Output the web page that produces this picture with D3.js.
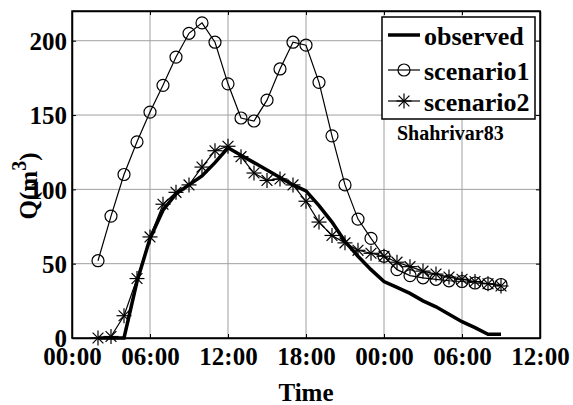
<!DOCTYPE html>
<html><head><meta charset="utf-8">
<script src="https://cdn.jsdelivr.net/npm/d3@7"></script>
<style>
html,body{margin:0;padding:0;background:#fff;}
</style></head>
<body><svg id="c" width="573" height="405"></svg>
<script>
const hours = [2,3,4,5,6,7,8,9,10,11,12,13,14,15,16,17,18,19,20,21,22,23,24,25,26,27,28,29,30,31,32,33];
const observed = [0,0,0,38,67,86,97,103,109,118,128,123,118,113,108,103,99,89,78,65,55,46,38,34,30,25,21,16,11,7,2.5,2.5];
const scenario1 = [52,82,110,132,152,170,189,205,212,199,171,148,146,160,181,199,197,172,136,103,80,67,55,46,42,40.5,39.5,38.5,38,37,36.5,36];
const scenario2 = [0,1,15,40,68,90,98,103,115,126,129,122,111,106,107,103,92,78,69,64,59,57,55,51,48,45,43,41,39.5,38,36.5,35];
const xTickValues = [0,6,12,18,24,30,36];
const xTickLabels = ["00:00","06:00","12:00","18:00","00:00","06:00","12:00"];
const yTickValues = [0,50,100,150,200];
const legendLabels = ["observed","scenario1","scenario2"];

const FONT = "Liberation Serif";
const svg = d3.select("#c");
const L=72, R=540, T=11, B=338;
const x = d3.scaleLinear().domain([0,36]).range([L,R]);
const y = d3.scaleLinear().domain([0,220]).range([B,T]);

// grid
const g = svg.append("g");
g.selectAll(".gx").data(xTickValues.slice(1,-1)).enter().append("line")
 .attr("x1",d=>x(d)).attr("x2",d=>x(d)).attr("y1",T).attr("y2",B)
 .attr("stroke","#a0a0a0").attr("stroke-width",1);
g.selectAll(".gy").data(yTickValues.slice(1)).enter().append("line")
 .attr("x1",L).attr("x2",R).attr("y1",d=>y(d)).attr("y2",d=>y(d))
 .attr("stroke","#a0a0a0").attr("stroke-width",1);

// axes
const xAxis = d3.axisBottom(x).tickValues(xTickValues).tickFormat((d,i)=>xTickLabels[i]).tickSizeInner(-4).tickSizeOuter(0).tickPadding(9);
const yAxis = d3.axisLeft(y).tickValues(yTickValues).tickSizeInner(-4).tickSizeOuter(0).tickPadding(5);
const gx = svg.append("g").attr("transform",`translate(0,${B})`).call(xAxis);
const gy = svg.append("g").attr("transform",`translate(${L},0)`).call(yAxis);
svg.append("g").attr("transform",`translate(0,${T})`).call(d3.axisTop(x).tickValues(xTickValues).tickFormat("").tickSizeInner(-4).tickSizeOuter(0));
svg.append("g").attr("transform",`translate(${R},0)`).call(d3.axisRight(y).tickValues(yTickValues).tickFormat("").tickSizeInner(-4).tickSizeOuter(0));
svg.selectAll(".domain").attr("stroke","#000").attr("stroke-width",1.5);
svg.selectAll(".tick line").attr("stroke","#000");
gx.selectAll("text").attr("font-size",25).attr("fill","#000");
gy.selectAll("text").attr("font-size",25).attr("fill","#000").attr("dy","0.35em");
svg.append("rect").attr("x",L).attr("y",T).attr("width",R-L).attr("height",B-T).attr("fill","none").attr("stroke","#000").attr("stroke-width",1.5);

// lines
const line = (vals)=>d3.line().x((d,i)=>x(hours[i])).y(d=>y(d))(vals);
svg.append("path").attr("d",line(scenario1)).attr("fill","none").attr("stroke","#000").attr("stroke-width",1.2);
svg.append("path").attr("d",line(scenario2)).attr("fill","none").attr("stroke","#000").attr("stroke-width",1.2);
svg.append("path").attr("d",line(observed)).attr("fill","none").attr("stroke","#000").attr("stroke-width",3.5);

function star(sel, cx, cy, r){
  const a = r*0.72;
  const segs = [[-r,0,r,0],[0,-r,0,r],[-a,-a,a,a],[-a,a,a,-a]];
  segs.forEach(s=>sel.append("line").attr("x1",cx+s[0]).attr("y1",cy+s[1]).attr("x2",cx+s[2]).attr("y2",cy+s[3]).attr("stroke","#000").attr("stroke-width",1.2));
}
svg.selectAll(".c1").data(scenario1).enter().append("circle")
 .attr("cx",(d,i)=>x(hours[i])).attr("cy",d=>y(d)).attr("r",6)
 .attr("fill","none").attr("stroke","#000").attr("stroke-width",1.2);
const sg = svg.append("g");
scenario2.forEach((d,i)=>star(sg, x(hours[i]), y(d), 7.5));

// legend
const lg = svg.append("g");
lg.append("rect").attr("x",382).attr("y",17).attr("width",153).attr("height",102).attr("fill","#fff").attr("stroke","#000").attr("stroke-width",1.5);
const ly = [35,70,101];
lg.append("line").attr("x1",388).attr("x2",420).attr("y1",ly[0]).attr("y2",ly[0]).attr("stroke","#000").attr("stroke-width",3.5);
lg.append("line").attr("x1",388).attr("x2",420).attr("y1",ly[1]).attr("y2",ly[1]).attr("stroke","#000").attr("stroke-width",1.2);
lg.append("circle").attr("cx",404).attr("cy",ly[1]).attr("r",6).attr("fill","none").attr("stroke","#000").attr("stroke-width",1.2);
lg.append("line").attr("x1",388).attr("x2",420).attr("y1",ly[2]).attr("y2",ly[2]).attr("stroke","#000").attr("stroke-width",1.2);
star(lg,404,ly[2],7.5);
legendLabels.forEach((t,i)=>lg.append("text").attr("x",424).attr("y",ly[i]+10).attr("font-size",26).text(t));

svg.append("text").attr("x",397).attr("y",140).attr("font-size",20).text("Shahrivar83");

// axis titles
svg.append("text").attr("x",306).attr("y",401).attr("text-anchor","middle").attr("font-size",25).text("Time");
const yl = svg.append("text").attr("transform","translate(37,186) rotate(-90)").attr("text-anchor","middle").attr("font-size",25);
yl.append("tspan").text("Q(m");
yl.append("tspan").attr("dy",-11).attr("font-size",20).text("3");
yl.append("tspan").attr("dy",11).text(")");

svg.selectAll("text").attr("font-family",FONT).attr("font-weight","bold").attr("fill","#000");
</script></body></html>
